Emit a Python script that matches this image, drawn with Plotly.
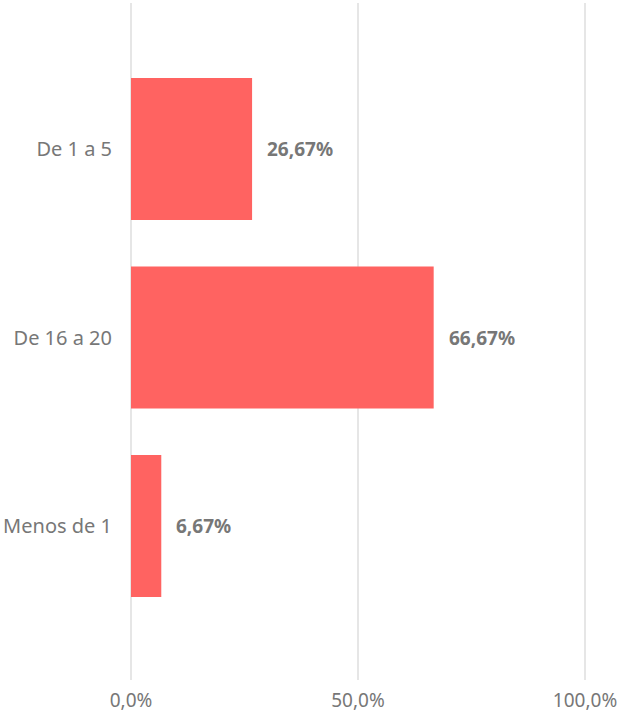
import plotly.graph_objects as go

categories = ["De 1 a 5", "De 16 a 20", "Menos de 1"]
values = [26.67, 66.67, 6.67]
labels = ["26,67%", "66,67%", "6,67%"]
tick_vals = [0, 50, 100]
tick_text = ["0,0%", "50,0%", "100,0%"]

font_family = "Noto Sans, Open Sans, sans-serif"

fig = go.Figure()
fig.add_trace(go.Bar(
    y=categories, x=values, orientation="h",
    marker=dict(color="#FF6361", line=dict(width=0)),
    hoverinfo="skip",
))
for c, v, t in zip(categories, values, labels):
    fig.add_annotation(x=v, y=c, text="<b>" + t + "</b>", showarrow=False,
                       xanchor="left", xshift=13,
                       font=dict(family=font_family, size=19, color="#777777"))

fig.update_layout(
    width=621, height=716,
    margin=dict(l=129, r=34, t=3, b=36),
    plot_bgcolor="white", paper_bgcolor="white",
    bargap=0.247,
    showlegend=False,
    font=dict(family=font_family, color="#6e6e6e"),
)
fig.update_xaxes(
    range=[-0.44, 100.44], tickvals=tick_vals, ticktext=tick_text,
    showgrid=True, gridcolor="#e6e6e6", gridwidth=2,
    zeroline=False, showline=False,
    tickfont=dict(size=19, color="#777777"),
    ticklabelstandoff=7,
)
fig.update_yaxes(
    categoryorder="array", categoryarray=categories,
    range=[2.817, -0.775],
    showgrid=False, zeroline=False, showline=False,
    tickfont=dict(size=20, color="#777777"),
    ticklabelstandoff=16,
)
fig.write_html("out.html", config={"displayModeBar": False})

with open("out.html", "r", encoding="utf-8") as f:
    html = f.read()
html = html.replace("<head>", "<head><style>html,body{margin:0;padding:0;overflow:hidden}</style>", 1)
with open("out.html", "w", encoding="utf-8") as f:
    f.write(html)
